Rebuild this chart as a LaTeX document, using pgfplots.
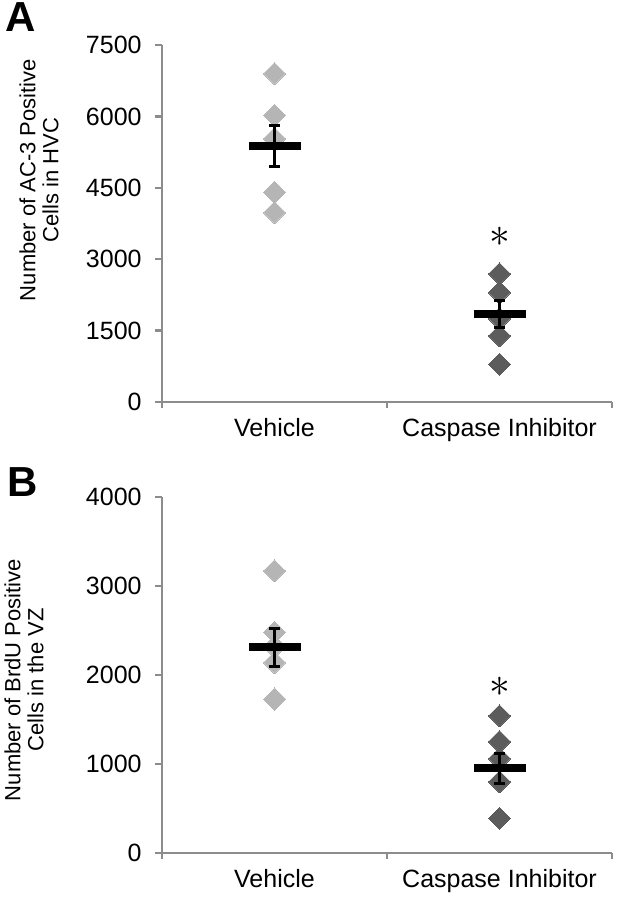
\documentclass[border=0pt]{standalone}
\usepackage{pgfplots}
\pgfplotsset{compat=1.18}
\usepackage{fontspec}
\setmainfont{Liberation Sans}
\definecolor{vehgray}{RGB}{181,181,181}
\definecolor{capgray}{RGB}{92,92,92}
\definecolor{axgray}{RGB}{140,140,140}

\pgfplotsset{
  dotplot/.style={
    scale only axis, width=225pt, height=178.5pt,
    xmin=0.5, xmax=2.5, clip=false,
    axis x line=bottom, axis y line=left,
    axis line style={axgray, line width=1.3pt, -},
    xtick={1,2}, xticklabels={Vehicle, Caspase Inhibitor},
    minor xtick={0.5,1.5,2.5},
    major x tick style={draw=none},
    minor x tick style={axgray, line width=1.3pt},
    y tick style={axgray, line width=1.3pt},
    tick align=outside, major tick length=3.5pt, minor tick length=3pt,
    ticklabel style={font=\fontsize{12.5}{15}\selectfont},
    xticklabel style={inner sep=0pt, yshift=-4.5pt},
    yticklabel style={inner sep=0pt, xshift=-6.5pt},
    /pgf/number format/assume math mode=true,
    /pgf/number format/1000 sep={},
  },
  overlay axis/.style={
    scale only axis, width=225pt, height=178.5pt,
    xmin=0.5, xmax=2.5, clip=false, hide axis,
  },
  vehmarks/.style={only marks, color=vehgray, mark=square*, mark size=3.9pt,
    mark options={rotate=45, fill=vehgray, draw=vehgray, line width=0pt}},
  capmarks/.style={only marks, color=capgray, mark=square*, mark size=3.9pt,
    mark options={rotate=45, fill=capgray, draw=capgray, line width=0pt}},
  meanbar/.style={only marks, black, mark=-, mark size=13pt,
    mark options={line width=4pt, black},
    error bars/.cd, y dir=both, y explicit,
    error bar style={line width=1.5pt, black},
    error mark options={rotate=90, mark size=2.75pt, line width=1.5pt, black}},
}

\begin{document}
\begin{tikzpicture}
\path[use as bounding box] (0,0) rectangle (308.5pt,450pt);

% panel A
\begin{axis}[dotplot, at={(81pt,249pt)}, anchor=origin,
  ymin=0, ymax=7500, ytick={0,1500,3000,4500,6000,7500}]
  \addplot[vehmarks] coordinates {(1,6900) (1,6020) (1,5530) (1,4410) (1,3980)};
  \addplot[capmarks] coordinates {(2,2690) (2,2300) (2,1750) (2,1390) (2,790)};
  \node at (axis cs:2,3460) {\fontsize{22}{22}\selectfont$\ast$};
\end{axis}
\begin{axis}[overlay axis, at={(81pt,249pt)}, anchor=origin, ymin=0, ymax=7500]
  \addplot[meanbar] coordinates {(1,5370) +- (0,430) (2,1850) +- (0,280)};
\end{axis}

% panel B
\begin{axis}[dotplot, at={(81pt,23.5pt)}, anchor=origin, height=178pt,
  ymin=0, ymax=4000, ytick={0,1000,2000,3000,4000}]
  \addplot[vehmarks] coordinates {(1,3170) (1,2480) (1,2320) (1,2140) (1,1730)};
  \addplot[capmarks] coordinates {(2,1540) (2,1250) (2,1060) (2,800) (2,390)};
  \node at (axis cs:2,1870) {\fontsize{22}{22}\selectfont$\ast$};
\end{axis}
\begin{axis}[overlay axis, at={(81pt,23.5pt)}, anchor=origin, height=178pt,
  ymin=0, ymax=4000]
  \addplot[meanbar] coordinates {(1,2310) +- (0,215) (2,950) +- (0,165)};
\end{axis}

\node[font=\fontsize{21}{21}\selectfont\bfseries] at (10.5pt,441.5pt) {A};
\node[font=\fontsize{21}{21}\selectfont\bfseries] at (11.5pt,209pt) {B};
\node[rotate=90, align=center, font=\fontsize{11}{11.5}\selectfont]
  at (19.5pt,360pt) {Number of AC-3 Positive\\Cells in HVC};
\node[rotate=90, align=center, font=\fontsize{11}{11.5}\selectfont]
  at (12pt,110pt) {Number of BrdU Positive\\Cells in the VZ};
\end{tikzpicture}
\end{document}
